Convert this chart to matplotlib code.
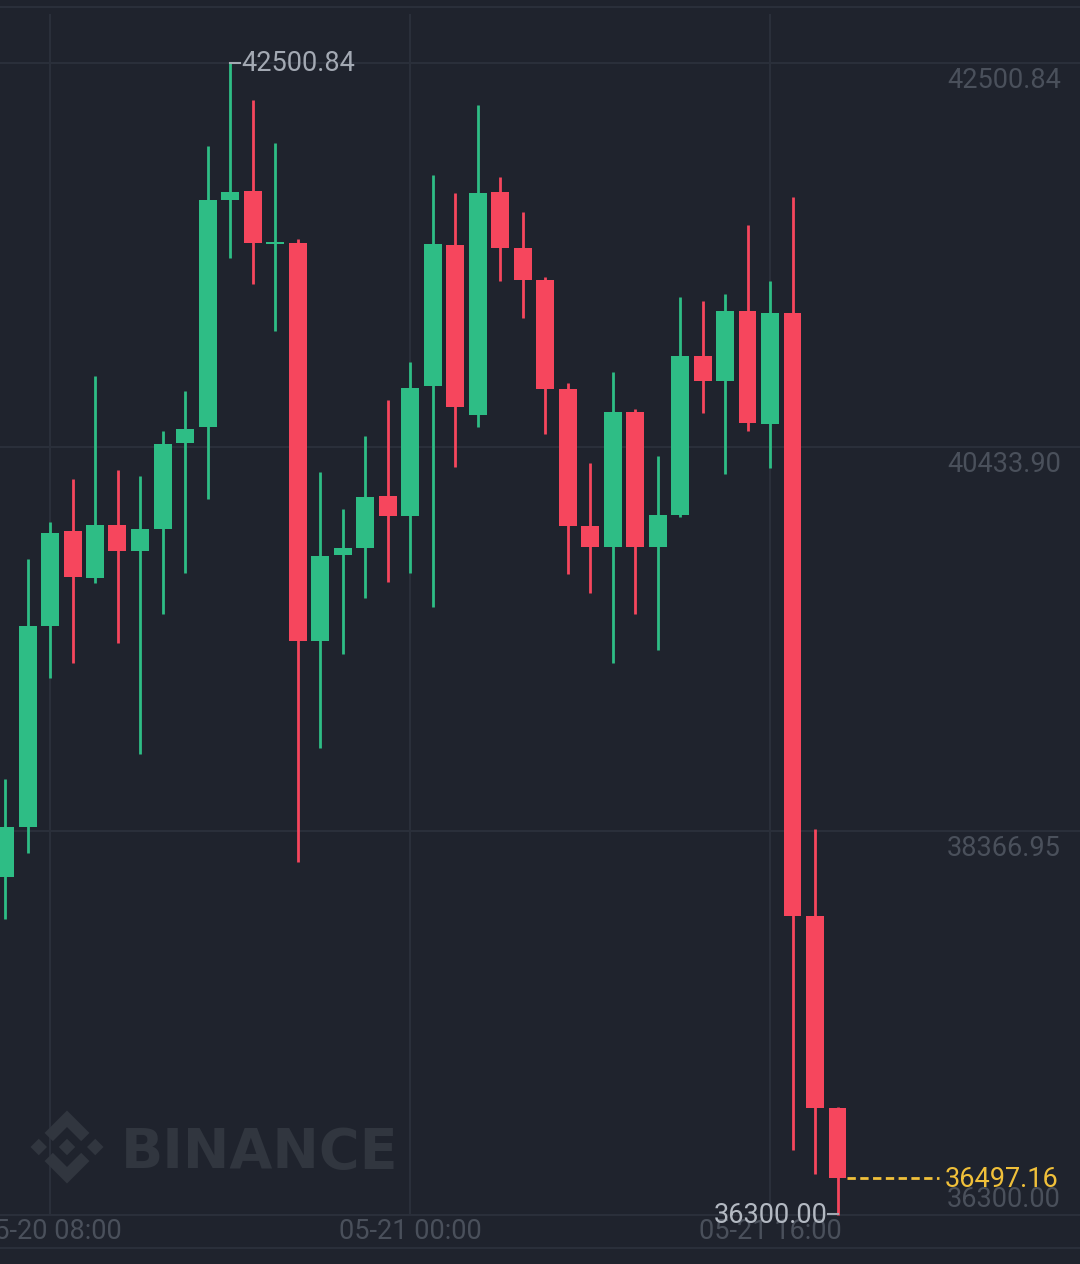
import matplotlib
matplotlib.use("Agg")
import matplotlib.pyplot as plt
from matplotlib.patches import Polygon
from matplotlib.transforms import Affine2D
import numpy as np

# ---------------- data (1h candles, 05-20 06:00 .. 05-21 19:00) ----------------
opens = [38119, 38388, 39470, 39982, 39729, 40014, 39874, 39993, 40455, 40541,
         41763, 41812, 41526, 41532, 39390, 39852, 39890, 40170, 40062, 40762,
         41521, 40606, 41806, 41505, 41333, 40746, 40009, 39896, 40622, 39896,
         40068, 40924, 40789, 41166, 40558, 41155, 37909, 36876]
highs = [38647, 39831, 40030, 40262, 40816, 40310, 40278, 40520, 40735, 42054,
         42500.84, 42302, 42070, 41553, 40299, 40100, 40493, 40687, 40891, 41898,
         41801, 42275, 41887, 41699, 41349, 40778, 40348, 40838, 40638, 40385,
         41241, 41220, 41257, 41629, 41327, 41780, 38378, 36881]
lows = [37893, 38249, 39190, 39271, 39702, 39379, 38781, 39535, 39756, 40154,
        41451, 41311, 41058, 38200, 38814, 39320, 39621, 39707, 39756, 39573,
        40326, 40542, 41327, 41128, 40504, 39750, 39648, 39271, 39535, 39341,
        40057, 40617, 40289, 40520, 40321, 36650, 36521, 36300.00]
closes = [38388, 39470, 39971, 39734, 40014, 39874, 39993, 40450, 40531, 41763,
          41806, 41532, 41535, 39390, 39847, 39890, 40165, 40062, 40751, 41527,
          40649, 41801, 41505, 41333, 40746, 40009, 39896, 40622, 39896, 40068,
          40924, 40789, 41166, 40563, 41155, 37909, 36876, 36497.16]

price_levels = [42500.84, 40433.90, 38366.95, 36300.00]
price_labels = ["42500.84", "40433.90", "38366.95", "36300.00"]
time_tick_idx = [2, 18, 34]
time_tick_labels = ["05-20 08:00", "05-21 00:00", "05-21 16:00"]
max_label = "42500.84"
min_label = "36300.00"
last_label = "36497.16"

# ---------------- style ----------------
BG = "#1f232d"
GRID = "#2a2f3a"
UP = "#2ebd85"
DOWN = "#f6465d"
DIM = "#4a505b"
LIGHT = "#a3a9b3"
YELLOW = "#f0c03a"
WATER = "#31363f"

W, H = 1080, 1264
fig = plt.figure(figsize=(W / 100, H / 100), dpi=100, facecolor=BG)

# pixel transform (top-left origin) for decorations
PX = Affine2D().scale(1 / W, -1 / H).translate(0, 1) + fig.transFigure

ax = fig.add_axes([0, 0, 1, 1])
ax.set_facecolor(BG)
for s in ax.spines.values():
    s.set_visible(False)
ax.set_xticks([])
ax.set_yticks([])

# linear mapping: price per pixel
ppp = (price_levels[0] - price_levels[-1]) / (1215 - 63)
p_top = price_levels[0] + 63 * ppp
p_bot = price_levels[0] - (H - 63) * ppp
spacing = 22.5
left = 2 - 50 / spacing          # array index 2 sits at x = 50 px
ax.set_xlim(left, left + W / spacing)
ax.set_ylim(p_bot, p_top)
xs = np.arange(len(opens))

def ypx(px):
    return p_top - px * ppp

# grid
for lvl in price_levels:
    ax.axhline(lvl, color=GRID, lw=1.5, zorder=1)
ax.axhline(ypx(1248), color=GRID, lw=1.5, zorder=1)
ax.axhline(ypx(6.5), color=GRID, lw=1.5, zorder=1)
for ti in time_tick_idx:
    ax.vlines(ti, price_levels[3], ypx(14), color=GRID, lw=1.5, zorder=1)

# candles
o = np.array(opens, float); c = np.array(closes, float)
h = np.array(highs, float); l = np.array(lows, float)
cols = [UP if cc >= oo else DOWN for oo, cc in zip(o, c)]
ax.vlines(xs, l, h, colors=cols, lw=2.0, zorder=3)
bottoms = np.minimum(o, c)
heights = np.maximum(np.abs(c - o), 1.6 * ppp)
ax.bar(xs, heights, bottom=bottoms, width=0.8, color=cols, linewidth=0, zorder=4)

# right price labels
fs = 19.5
label_base = [88, 472, 856, 1207]
for lab, yb in zip(price_labels, label_base):
    ax.text(1061, yb, lab, transform=PX, ha="right", va="baseline", color=DIM,
            fontsize=fs, family="Roboto", zorder=5)

# time labels
for ti, lab in zip(time_tick_idx, time_tick_labels):
    xp = (ti - left) * spacing
    ax.text(xp, 1239, lab, transform=PX, ha="center", va="baseline", color=DIM,
            fontsize=fs, family="Roboto", zorder=5)

# max / min markers
imax = int(np.argmax(h)); imin = int(np.argmin(l))
xmax = (imax - left) * spacing
ax.plot([xmax, xmax + 10], [63, 63], transform=PX, color=LIGHT, lw=1.5, zorder=6)
ax.text(xmax + 11, 71, max_label, transform=PX, ha="left", va="baseline",
        color=LIGHT, fontsize=fs, family="Roboto", zorder=6)
xmin = (imin - left) * spacing
ax.plot([xmin - 10, xmin], [1214, 1214], transform=PX, color=LIGHT, lw=1.5, zorder=6)
ax.text(xmin - 10, 1223, min_label, transform=PX, ha="right", va="baseline",
        color="#b3b9c2", fontsize=fs, family="Roboto", zorder=6)

# last price line
ax.hlines(c[-1], (len(c) - 1) + 0.4, (939 / spacing) + left, color=YELLOW, lw=2.0,
          linestyles=(0, (3.0, 1.6)), zorder=6)
ax.text(1059, 1187, last_label, transform=PX, ha="right", va="baseline",
        color=YELLOW, fontsize=fs, family="Roboto", zorder=7)

# watermark (Binance logo + text)
logo = {
    "top": [(38.73, 53.2), (63.3, 28.63), (87.89, 53.22), (102.19, 38.92), (63.3, 0), (24.42, 38.9)],
    "left": [(0, 63.31), (14.3, 49.01), (28.6, 63.31), (14.3, 77.61)],
    "center": [(63.3, 49.01), (77.6, 63.31), (63.3, 77.61), (49.0, 63.31)],
    "right": [(98.0, 63.31), (112.3, 49.0), (126.6, 63.31), (112.3, 77.61)],
    "bottom": [(87.89, 73.41), (63.3, 97.98), (38.73, 73.4), (24.41, 87.69), (63.3, 126.61), (102.2, 87.69)],
}
sc = 73 / 126.6
cx, cy = 67, 1147
for pts in logo.values():
    P = [(cx + (px_ - 63.3) * sc, cy + (py_ - 63.3) * sc) for px_, py_ in pts]
    ax.add_patch(Polygon(P, closed=True, transform=PX, facecolor=WATER,
                         edgecolor="none", zorder=2))
ax.text(121, 1168, "BINANCE", transform=PX, ha="left", va="baseline", color=WATER,
        fontsize=40, family="DejaVu Sans", fontweight="bold", zorder=2)

fig.savefig("out.png", dpi=100, facecolor=BG)
